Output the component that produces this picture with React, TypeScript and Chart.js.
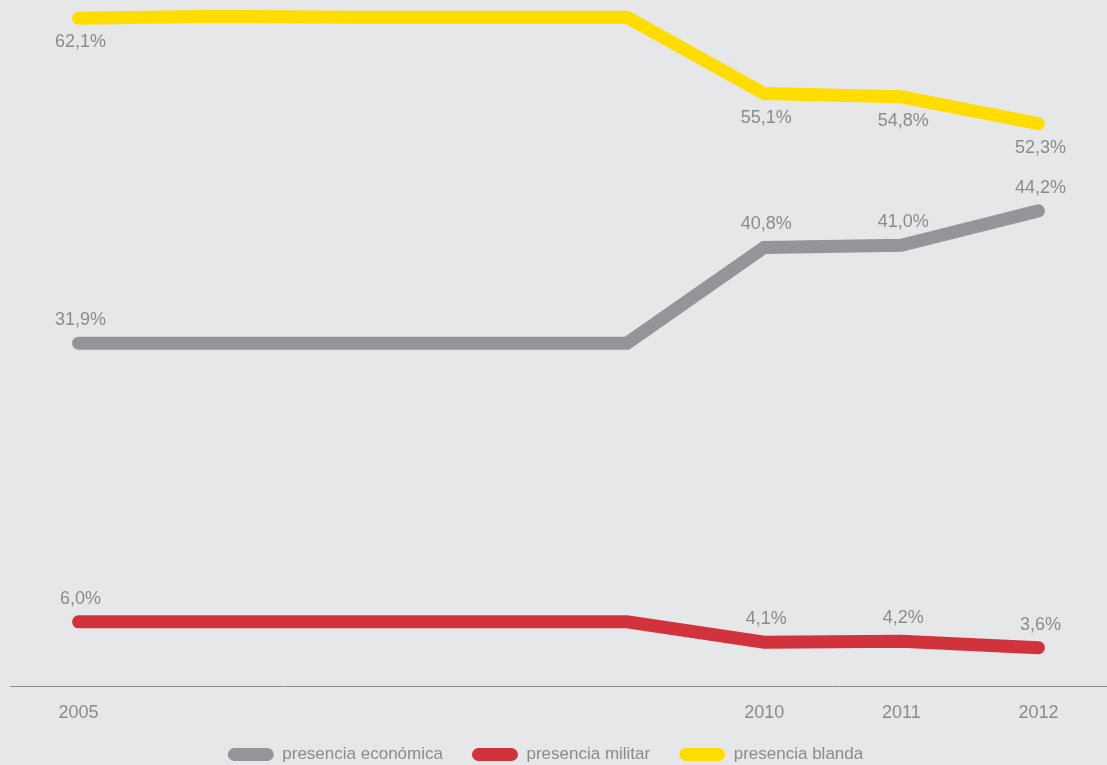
import React, { useEffect, useRef } from "react";
import { Chart, registerables } from "chart.js";

Chart.register(...registerables);

const years = ["2005", "2006", "2007", "2008", "2009", "2010", "2011", "2012"];
const shownYears = ["2005", "2010", "2011", "2012"];
const economica = [31.9, 31.9, 31.9, 31.9, 31.9, 40.8, 41.0, 44.2];
const militar = [6.0, 6.0, 6.0, 6.0, 6.0, 4.1, 4.2, 3.6];
const blanda = [62.1, 62.3, 62.2, 62.2, 62.2, 55.1, 54.8, 52.3];
const labelIndexes = [0, 5, 6, 7];

const TEXT = "#8a8b8e";
const FONT = "'Liberation Sans', Arial, sans-serif";

const valueLabels = {
  id: "valueLabels",
  afterDatasetsDraw(chart: any) {
    const ctx = chart.ctx;
    ctx.save();
    ctx.font = `18px ${FONT}`;
    ctx.fillStyle = TEXT;
    ctx.textAlign = "center";
    ctx.textBaseline = "middle";
    chart.data.datasets.forEach((ds: any, di: number) => {
      const meta = chart.getDatasetMeta(di);
      const below = ds.labelPos === "below";
      labelIndexes.forEach((i) => {
        const pt = meta.data[i];
        if (!pt) return;
        const txt = ds.data[i].toFixed(1).replace(".", ",") + "%";
        ctx.fillText(txt, pt.x + 2, pt.y + (below ? 24 : -23));
      });
    });
    ctx.restore();
  },
};

const legendShift = {
  id: "legendShift",
  afterLayout(chart: any) {
    const l = chart.legend;
    if (l) {
      l.left -= 13;
      l.right -= 13;
    }
  },
};

export default function App() {
  const ref = useRef<HTMLCanvasElement>(null);
  useEffect(() => {
    if (!ref.current) return;
    const common = {
      borderWidth: 13,
      borderCapStyle: "round" as const,
      borderJoinStyle: "miter" as const,
      pointRadius: 0,
      pointHoverRadius: 0,
      tension: 0,
      clip: false as any,
    };
    const chart = new Chart(ref.current, {
      type: "line",
      data: {
        labels: years,
        datasets: [
          { ...common, label: "presencia económica", data: economica, borderColor: "#939598", backgroundColor: "#939598", labelPos: "above" } as any,
          { ...common, label: "presencia militar", data: militar, borderColor: "#d2323c", backgroundColor: "#d2323c", labelPos: "above" } as any,
          { ...common, label: "presencia blanda", data: blanda, borderColor: "#ffdd00", backgroundColor: "#ffdd00", labelPos: "below" } as any,
        ],
      },
      options: {
        animation: false,
        responsive: false,
        maintainAspectRatio: false,
        layout: { padding: { left: 10, right: 0, top: 0, bottom: -8 } },
        plugins: {
          tooltip: { enabled: false },
          legend: {
            position: "bottom",
            labels: {
              boxWidth: 46,
              boxHeight: 13,
              useBorderRadius: true,
              borderRadius: 6.5,
              color: TEXT,
              padding: 29,
              font: { family: FONT, size: 17 },
              generateLabels: (c: any) =>
                Chart.defaults.plugins.legend.labels.generateLabels(c).map((it: any) => ({
                  ...it,
                  lineWidth: 0,
                  strokeStyle: "transparent",
                })),
            },
          } as any,
        },
        scales: {
          x: {
            offset: true,
            grid: { display: false },
            border: { display: true, color: "#8a8b8e", width: 1 },
            afterFit: (s: any) => {
              s.height = s.height - 15;
              s._computeLabelArea = () => undefined;
            },
            ticks: {
              color: TEXT,
              padding: 8,
              autoSkip: false,
              maxRotation: 0,
              font: { family: FONT, size: 18 },
              callback: (v: any, i: number) => (shownYears.includes(years[i]) ? years[i] : ""),
            },
          },
          y: { display: false, min: 0, max: 63.8 },
        },
      },
      plugins: [valueLabels, legendShift],
    });
    return () => chart.destroy();
  }, []);
  return (
    <div style={{ position: "fixed", left: 0, top: 0, width: 1107, height: 765, background: "#e6e7e8" }}>
      <canvas ref={ref} width={1107} height={765} style={{ display: "block" }} />
    </div>
  );
}
